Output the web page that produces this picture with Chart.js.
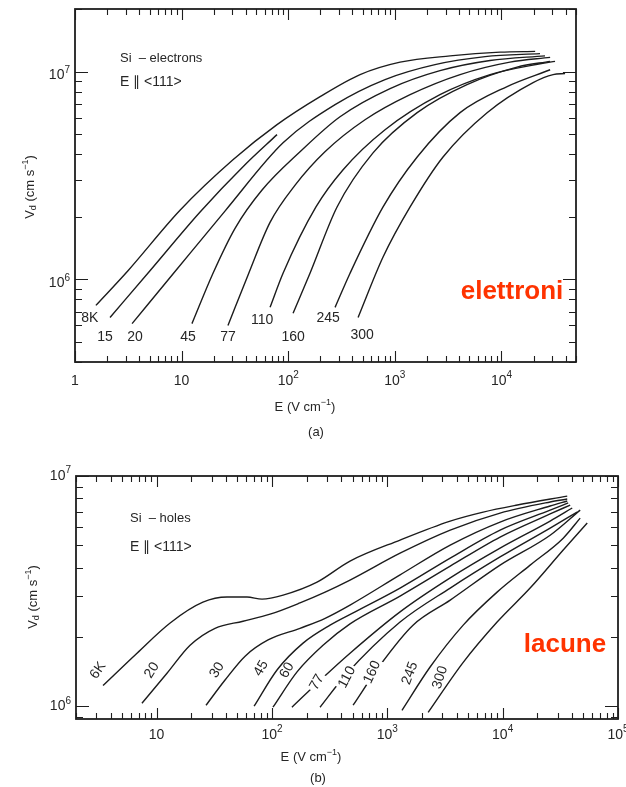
<!DOCTYPE html>
<html lang="it">
<head>
<meta charset="utf-8"/>
<title>Velocità di deriva nel silicio</title>
<script src="https://cdn.jsdelivr.net/npm/chart.js"></script>
<style>
  body {
    margin: 0;
    background: #fff;
    width: 626px;
    height: 787px;
    position: relative;
    overflow: hidden;
  }
  canvas { position: absolute; left: 0; }
  #chartA { top: 0; }
  #chartB { top: 455px; }
</style>
</head>
<body>
<canvas id="chartA" width="626" height="455"></canvas>
<canvas id="chartB" width="626" height="332"></canvas>
<script>
// (a) elettroni: campo E (V/cm) e velocità di deriva (cm/s), una riga per temperatura
const elecTemps = ['8K', '15', '20', '45', '77', '110', '160', '245', '300'];
const elecE = [
  [1.57, 3.14, 9.66, 30.3, 78.5, 199, 472, 1120, 3300, 9700, 20700],
  [2.13, 5.05, 14.9, 39.3, 78.5],
  [3.43, 8.67, 25.5, 89.4, 275, 809, 2380, 7020, 23000],
  [12.5, 19.7, 31.7, 56.8, 129, 306, 902, 2650, 7820, 25600],
  [27.2, 42.0, 67.5, 116, 221, 525, 1390, 4090, 12000, 28600],
  [67.5, 89.4, 182, 327, 809, 2650, 7820, 23000, 31800],
  [111, 160, 287, 624, 1620, 4750, 14000, 28600],
  [275, 380, 775, 1620, 4090, 11300, 28600],
  [452, 775, 1390, 2830, 7330, 19800, 30500, 39500]
];
const elecV = [
  [7.49e5, 1.10e6, 2.15e6, 3.76e6, 5.55e6, 7.57e6, 9.67e6, 1.11e7, 1.19e7, 1.24e7, 1.25e7],
  [6.55e5, 1.10e6, 2.11e6, 3.56e6, 4.97e6],
  [6.12e5, 1.09e6, 2.13e6, 4.54e6, 6.93e6, 9.15e6, 1.08e7, 1.18e7, 1.22e7],
  [6.12e5, 1.07e6, 1.76e6, 2.69e6, 4.11e6, 6.06e6, 8.28e6, 1.01e7, 1.13e7, 1.19e7],
  [6.00e5, 1.05e6, 1.88e6, 2.84e6, 4.11e6, 5.86e6, 7.74e6, 9.67e6, 1.11e7, 1.17e7],
  [7.33e5, 1.07e6, 2.23e6, 3.37e6, 5.25e6, 7.74e6, 9.67e6, 1.09e7, 1.12e7],
  [6.86e5, 1.07e6, 2.23e6, 4.06e6, 6.34e6, 8.65e6, 1.05e7, 1.12e7],
  [7.33e5, 1.07e6, 2.23e6, 3.88e6, 6.34e6, 8.47e6, 1.02e7],
  [6.55e5, 1.28e6, 2.23e6, 3.88e6, 6.34e6, 8.85e6, 9.67e6, 9.78e6]
];

// (b) lacune
const holeTemps = ['6K', '20', '30', '45', '60', '77', '110', '160', '245', '300'];
const holeE = [
  [3.43, 6.76, 13.1, 25.2, 40.8, 60.8, 82.0, 125, 246, 475, 1290, 3510, 6780, 13400, 36300],
  [7.46, 12.3, 19.5, 32.1, 56.1, 96.3, 175, 289, 475, 1290, 3510, 9500, 25800, 36300],
  [26.8, 39.2, 58.5, 92.5, 175, 289, 475, 1290, 3510, 9500, 25800, 36300],
  [70.0, 111, 186, 319, 526, 1290, 3510, 9500, 25800, 37000],
  [102, 165, 277, 475, 1290, 3510, 9500, 25800, 38500],
  [149, 272, 475, 1290, 3510, 9500, 25800, 40100],
  [261, 431, 1290, 3510, 9500, 25800, 44200],
  [505, 867, 1670, 3510, 9500, 25800, 47000],
  [1340, 2350, 4550, 8950, 17300, 33500, 47000],
  [2260, 4550, 8950, 17300, 33500, 54100]
];
const holeV = [
  [1.23e6, 1.70e6, 2.30e6, 2.83e6, 2.98e6, 2.98e6, 2.92e6, 3.04e6, 3.46e6, 4.27e6, 5.27e6, 6.37e6, 6.97e6, 7.48e6, 8.18e6],
  [1.03e6, 1.39e6, 1.84e6, 2.18e6, 2.34e6, 2.51e6, 2.81e6, 3.13e6, 3.53e6, 4.62e6, 5.82e6, 6.90e6, 7.71e6, 7.94e6],
  [1.01e6, 1.30e6, 1.65e6, 1.94e6, 2.18e6, 2.41e6, 2.75e6, 3.72e6, 5.01e6, 6.31e6, 7.41e6, 7.79e6],
  [1.00e6, 1.44e6, 1.88e6, 2.25e6, 2.57e6, 3.26e6, 4.40e6, 5.82e6, 7.11e6, 7.64e6],
  [9.9e5, 1.41e6, 1.84e6, 2.28e6, 3.01e6, 4.06e6, 5.43e6, 6.84e6, 7.48e6],
  [9.9e5, 1.32e6, 1.70e6, 2.57e6, 3.61e6, 4.86e6, 6.37e6, 7.26e6],
  [9.9e5, 1.36e6, 2.32e6, 3.26e6, 4.45e6, 5.94e6, 6.97e6],
  [1.01e6, 1.51e6, 2.25e6, 2.89e6, 4.10e6, 5.53e6, 7.11e6],
  [9.6e5, 1.48e6, 2.25e6, 3.13e6, 4.10e6, 5.37e6, 6.56e6],
  [9.4e5, 1.55e6, 2.32e6, 3.26e6, 4.77e6, 6.25e6]
];

// etichette degli assi
const xTicksA = [1, 10, 100, 1000, 10000];
const xTickLabelsA = ['1', '10', '10^2', '10^3', '10^4'];
const yTicksA = [1e6, 1e7];
const yTickLabelsA = ['10^6', '10^7'];
const xTicksB = [10, 100, 1000, 10000, 100000];
const xTickLabelsB = ['10', '10^2', '10^3', '10^4', '10^5'];
const yTicksB = [1e6, 1e7];
const yTickLabelsB = ['10^6', '10^7'];

const FONT = '"Liberation Sans", Arial, sans-serif';
const INK = '#262626';

function logTicks(min, max) {
  const out = [];
  for (let n = Math.floor(Math.log10(min)); n <= Math.ceil(Math.log10(max)); n++) {
    for (let k = 1; k <= 9; k++) {
      const v = k * Math.pow(10, n);
      if (v >= min * 0.999 && v <= max * 1.001) out.push({ v, major: k === 1 });
    }
  }
  return out;
}

// "10^3" -> segmenti con esponente
function parseSup(s) {
  const i = s.indexOf('^');
  if (i < 0) return [{ t: s }];
  return [{ t: s.slice(0, i) }, { t: s.slice(i + 1), sup: true }];
}

function drawRich(ctx, segs, x, y, size, align) {
  const small = Math.round(size * 0.68);
  let w = 0;
  segs.forEach(s => {
    ctx.font = (s.sup || s.sub ? small : size) + 'px ' + FONT;
    s.w = ctx.measureText(s.t).width;
    w += s.w;
  });
  let cx = align === 'right' ? x - w : align === 'left' ? x : x - w / 2;
  ctx.textAlign = 'left';
  ctx.textBaseline = 'middle';
  segs.forEach(s => {
    ctx.font = (s.sup || s.sub ? small : size) + 'px ' + FONT;
    const dy = s.sup ? -size * 0.38 : s.sub ? size * 0.3 : 0;
    ctx.fillText(s.t, cx, y + dy);
    cx += s.w;
  });
}

function decor(cfg) {
  return {
    id: 'decor',
    afterDraw(chart) {
      const { ctx, chartArea: a } = chart;
      const sx = chart.scales.x, sy = chart.scales.y;
      ctx.save();

      // cornice e tacche verso l'interno su tutti i lati
      ctx.strokeStyle = '#1e1e1e';
      ctx.lineWidth = 1.8;
      ctx.strokeRect(a.left, a.top, a.right - a.left, a.bottom - a.top);
      ctx.lineWidth = 1.1;
      ctx.beginPath();
      logTicks(sx.min, sx.max).forEach(t => {
        const p = Math.round(sx.getPixelForValue(t.v)) + 0.5;
        const len = t.major ? 11 : 6;
        ctx.moveTo(p, a.bottom); ctx.lineTo(p, a.bottom - len);
        ctx.moveTo(p, a.top); ctx.lineTo(p, a.top + len);
      });
      logTicks(sy.min, sy.max).forEach(t => {
        const p = Math.round(sy.getPixelForValue(t.v)) + 0.5;
        const len = t.major ? 13 : 7;
        ctx.moveTo(a.left, p); ctx.lineTo(a.left + len, p);
        ctx.moveTo(a.right, p); ctx.lineTo(a.right - len, p);
      });
      ctx.stroke();

      ctx.fillStyle = INK;
      cfg.xTicks.forEach((v, i) => {
        drawRich(ctx, parseSup(cfg.xTickLabels[i]), sx.getPixelForValue(v), a.bottom + cfg.xLabelGap, 14, 'center');
      });
      cfg.yTicks.forEach((v, i) => {
        drawRich(ctx, parseSup(cfg.yTickLabels[i]), a.left - 5, sy.getPixelForValue(v) + cfg.yLabelShift, 14, 'right');
      });

      // titoli degli assi
      drawRich(ctx, [{ t: 'E (V cm' }, { t: '−1', sup: true }, { t: ')' }], cfg.xTitle[0], cfg.xTitle[1], 13, 'center');
      drawRich(ctx, [{ t: cfg.panel }], cfg.panelPos[0], cfg.panelPos[1], 13, 'center');
      ctx.save();
      ctx.translate(cfg.yTitle[0], cfg.yTitle[1]);
      ctx.rotate(-Math.PI / 2);
      drawRich(ctx, [{ t: 'V' }, { t: 'd', sub: true }, { t: ' (cm s' }, { t: '−1', sup: true }, { t: ')' }], 0, 0, 13, 'center');
      ctx.restore();

      // note nel riquadro
      drawRich(ctx, [{ t: cfg.note1 }], cfg.notePos[0], cfg.notePos[1], 13, 'left');
      drawRich(ctx, [{ t: 'E ∥ <111>' }], cfg.notePos[0], cfg.notePos[1] + cfg.noteGap, 14, 'left');

      // etichette delle temperature, vicino all'inizio di ogni curva
      ctx.font = '14px ' + FONT;
      ctx.textAlign = 'center';
      ctx.textBaseline = 'middle';
      cfg.temps.forEach((lab, i) => {
        const px = sx.getPixelForValue(cfg.E[i][0]) + cfg.labelOff[i][0];
        const py = sy.getPixelForValue(cfg.V[i][0]) + cfg.labelOff[i][1];
        ctx.save();
        ctx.translate(px, py);
        ctx.rotate((cfg.labelRot[i] || 0) * Math.PI / 180);
        if (cfg.labelMask && cfg.labelMask[i]) {
          const w = ctx.measureText(lab).width;
          ctx.fillStyle = '#fff';
          ctx.fillRect(-w / 2 - 2, -7, w + 4, 14);
          ctx.fillStyle = INK;
        }
        ctx.fillText(lab, 0, 0);
        ctx.restore();
      });

      // scritta rossa
      ctx.fillStyle = '#ff3300';
      ctx.font = 'bold 26px ' + FONT;
      ctx.textAlign = 'center';
      ctx.textBaseline = 'alphabetic';
      ctx.fillText(cfg.red, cfg.redPos[0], cfg.redPos[1]);
      ctx.restore();
    }
  };
}

function buildChart(id, cfg) {
  const datasets = cfg.E.map((xs, i) => ({
    label: cfg.temps[i],
    data: xs.map((e, j) => ({ x: e, y: cfg.V[i][j] })),
    showLine: true,
    borderColor: '#1c1c1c',
    borderWidth: 1.4,
    pointRadius: 0,
    cubicInterpolationMode: 'monotone',
    fill: false
  }));
  new Chart(document.getElementById(id), {
    type: 'scatter',
    data: { datasets },
    options: {
      responsive: false,
      animation: false,
      devicePixelRatio: 1,
      layout: { padding: cfg.pad },
      plugins: { legend: { display: false }, tooltip: { enabled: false } },
      scales: {
        x: { type: 'logarithmic', min: cfg.xMin, max: cfg.xMax, display: false },
        y: { type: 'logarithmic', min: cfg.yMin, max: cfg.yMax, display: false }
      }
    },
    plugins: [decor(cfg)]
  });
}

buildChart('chartA', {
  E: elecE, V: elecV, temps: elecTemps,
  xMin: 1, xMax: 5e4, yMin: 4e5, yMax: 2e7,
  pad: { left: 75, right: 50, top: 9, bottom: 93 },
  xTicks: xTicksA, xTickLabels: xTickLabelsA, yTicks: yTicksA, yTickLabels: yTickLabelsA,
  xLabelGap: 19, yLabelShift: 4,
  xTitle: [305, 407], panel: '(a)', panelPos: [316, 432], yTitle: [30, 187],
  note1: 'Si  – electrons', notePos: [120, 58], noteGap: 24,
  labelOff: [[-6, 13], [-5, 20], [3, 14], [-4, 14], [0, 12], [-8, 13], [0, 24], [-7, 11], [4, 18]],
  labelRot: [],
  red: 'elettroni', redPos: [512, 299]
});

buildChart('chartB', {
  E: holeE, V: holeV, temps: holeTemps,
  xMin: 2, xMax: 1e5, yMin: 8.8e5, yMax: 1e7,
  pad: { left: 76, right: 8, top: 21, bottom: 68 },
  xTicks: xTicksB, xTickLabels: xTickLabelsB, yTicks: yTicksB, yTickLabels: yTickLabelsB,
  xLabelGap: 16, yLabelShift: 0,
  xTitle: [311, 302], panel: '(b)', panelPos: [318, 323], yTitle: [33, 142],
  note1: 'Si  – holes', notePos: [130, 63], noteGap: 29,
  labelOff: [[-5, -15], [10, -33], [11, -35], [7, -38], [14, -37], [25, -25], [27, -30], [19, -33], [8, -37], [12, -35]],
  labelRot: [-55, -58, -58, -60, -60, -60, -62, -65, -70, -72],
  labelMask: [false, false, false, false, false, true, true, true, false, false],
  red: 'lacune', redPos: [565, 197]
});
</script>
</body>
</html>
